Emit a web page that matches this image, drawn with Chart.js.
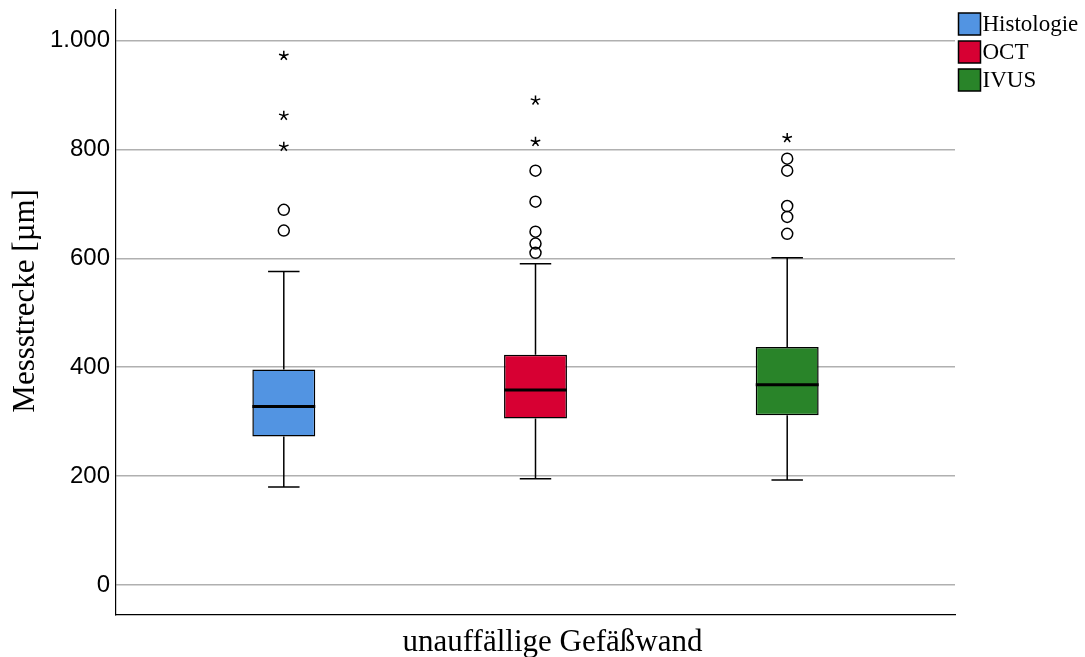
<!DOCTYPE html>
<html lang="de">
<head>
    <meta charset="UTF-8">
    <title>Messstrecke Boxplot</title>
    <script src="https://cdn.jsdelivr.net/npm/chart.js"></script>
    <style>
        body {
            margin: 0;
            padding: 0;
            background-color: white;
        }
        #wrap {
            width: 1085px;
            height: 657px;
        }
    </style>
</head>
<body>
    <div id="wrap">
        <canvas id="boxChart"></canvas>
    </div>

    <script>
        // data
        const categories = ['unauffällige Gefäßwand'];
        const groups = ['Histologie', 'OCT', 'IVUS'];
        const groupColors = ['#5294e2', '#d70033', '#298429'];
        const whiskerLow = [180, 195, 193];
        const q1 = [273, 306, 312];
        const median = [328, 358, 368];
        const q3 = [396, 423, 437];
        const whiskerHigh = [576, 590, 601];
        const outliers = [[651, 689], [610, 627, 649, 704, 761], [645, 676, 696, 761, 783]];
        const extremes = [[805, 862, 972], [814, 890], [821]];
        const yTicks = [0, 200, 400, 600, 800, 1000];

        function formatDe(v) {
            return String(v).replace(/\B(?=(\d{3})+(?!\d))/g, '.');
        }

        function drawStar(ctx, x, y, r) {
            ctx.beginPath();
            for (let k = 0; k < 5; k++) {
                const a = -Math.PI / 2 + k * 2 * Math.PI / 5;
                ctx.moveTo(x, y);
                ctx.lineTo(x + r * Math.cos(a), y + r * Math.sin(a));
            }
            ctx.stroke();
        }

        // whiskers, median and outliers on top of the floating bars
        const boxExtras = {
            id: 'boxExtras',
            afterDatasetsDraw(chart) {
                const ctx = chart.ctx;
                const yScale = chart.scales.y;
                ctx.save();
                ctx.strokeStyle = '#000';
                chart.data.datasets.forEach((ds, i) => {
                    const bar = chart.getDatasetMeta(i).data[0];
                    const cx = bar.x;
                    const half = bar.width / 2;
                    const py = v => yScale.getPixelForValue(v);

                    ctx.lineWidth = 1.5;
                    ctx.beginPath();
                    ctx.moveTo(cx, py(q3[i]));
                    ctx.lineTo(cx, py(whiskerHigh[i]));
                    ctx.moveTo(cx, py(q1[i]));
                    ctx.lineTo(cx, py(whiskerLow[i]));
                    ctx.moveTo(cx - half / 2, py(whiskerHigh[i]));
                    ctx.lineTo(cx + half / 2, py(whiskerHigh[i]));
                    ctx.moveTo(cx - half / 2, py(whiskerLow[i]));
                    ctx.lineTo(cx + half / 2, py(whiskerLow[i]));
                    ctx.stroke();

                    ctx.lineWidth = 3;
                    ctx.beginPath();
                    ctx.moveTo(cx - half, py(median[i]));
                    ctx.lineTo(cx + half, py(median[i]));
                    ctx.stroke();

                    ctx.lineWidth = 1.5;
                    outliers[i].forEach(v => {
                        ctx.beginPath();
                        ctx.arc(cx, py(v), 5.5, 0, 2 * Math.PI);
                        ctx.stroke();
                    });
                    extremes[i].forEach(v => drawStar(ctx, cx, py(v), 5));
                });
                ctx.restore();
            }
        };

        // SPSS style legend: square swatch with the name right next to it
        const sideLegend = {
            id: 'sideLegend',
            afterDraw(chart) {
                const ctx = chart.ctx;
                const area = chart.chartArea;
                ctx.save();
                ctx.font = '23px "Liberation Serif"';
                ctx.textBaseline = 'middle';
                ctx.textAlign = 'left';
                chart.data.datasets.forEach((ds, i) => {
                    const x = area.right + 3.5;
                    const y = area.top + 3 + i * 28;
                    ctx.fillStyle = ds.backgroundColor;
                    ctx.fillRect(x, y, 22, 22);
                    ctx.strokeStyle = '#000';
                    ctx.lineWidth = 1.5;
                    ctx.strokeRect(x, y, 22, 22);
                    ctx.fillStyle = '#000';
                    ctx.fillText(ds.label, x + 24, y + 12);
                });
                ctx.restore();
            }
        };

        const datasets = groups.map((name, i) => ({
            label: name,
            data: [[q1[i], q3[i]]],
            backgroundColor: groupColors[i],
            borderColor: '#000',
            borderWidth: 1.5,
            borderSkipped: false,
            categoryPercentage: 0.9,
            barPercentage: 0.25
        }));

        new Chart(document.getElementById('boxChart'), {
            type: 'bar',
            data: {
                labels: categories,
                datasets: datasets
            },
            plugins: [boxExtras, sideLegend],
            options: {
                responsive: true,
                maintainAspectRatio: false,
                animation: false,
                layout: {
                    padding: { top: 10, left: 0, right: 130, bottom: 0 }
                },
                plugins: {
                    tooltip: { enabled: false },
                    legend: { display: false }
                },
                scales: {
                    x: {
                        grid: { display: false },
                        border: { color: '#000', width: 1.2 },
                        ticks: {
                            color: '#000',
                            font: { family: 'Liberation Serif', size: 31 },
                            labelOffset: 17,
                            padding: 1
                        },
                        afterFit: scale => {
                            scale.height = 42;
                            scale.paddingLeft = 0;
                            scale.paddingRight = 0;
                        }
                    },
                    y: {
                        min: -55,
                        max: 1056,
                        grid: { color: '#b0b0b0', lineWidth: 1.5, drawTicks: false },
                        border: { color: '#000', width: 1.2 },
                        ticks: {
                            color: '#000',
                            font: { family: 'Liberation Sans', size: 24 },
                            padding: 6,
                            callback: v => formatDe(v)
                        },
                        afterBuildTicks: scale => {
                            scale.ticks = yTicks.map(v => ({ value: v }));
                        },
                        title: {
                            display: true,
                            text: '   Messstrecke [µm]',
                            color: '#000',
                            font: { family: 'Liberation Serif', size: 31 },
                            padding: { top: 7, bottom: 0 }
                        },
                        afterFit: scale => {
                            scale.width = 116;
                            scale.paddingTop = 0;
                            scale.paddingBottom = 0;
                        }
                    }
                }
            }
        });
    </script>
</body>
</html>
